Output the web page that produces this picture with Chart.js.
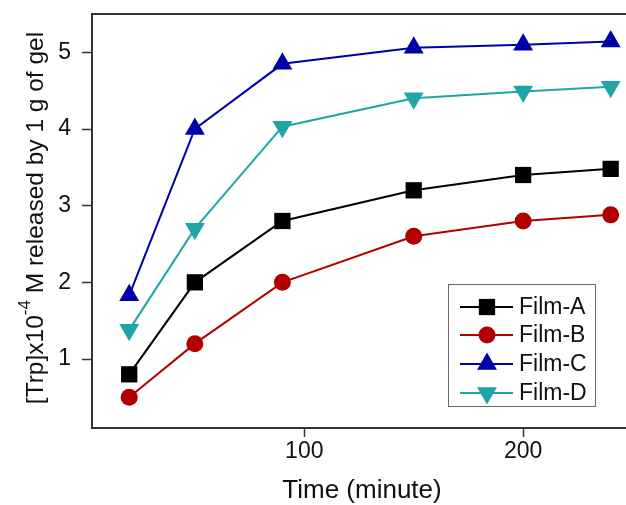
<!DOCTYPE html>
<html>
<head>
<meta charset="utf-8">
<script src="https://cdn.jsdelivr.net/npm/chart.js@4/dist/chart.umd.min.js"></script>
<style>
  html, body { margin: 0; padding: 0; background: #fff; }
  #wrap { width: 626px; height: 505px; }
</style>
</head>
<body>
<div id="wrap"><canvas id="chart" width="626" height="505"></canvas></div>
<script>
// data
const timeMin = [20, 50, 90, 150, 200, 240];
const filmA = [0.8, 2.0, 2.8, 3.2, 3.4, 3.48];
const filmB = [0.5, 1.2, 2.0, 2.6, 2.8, 2.88];
const filmC = [1.83, 4.0, 4.85, 5.06, 5.1, 5.14];
const filmD = [1.38, 2.7, 4.03, 4.4, 4.49, 4.55];
const seriesNames = ['Film-A', 'Film-B', 'Film-C', 'Film-D'];
const xTicks = [100, 200];
const yTicks = [1, 2, 3, 4, 5];

const FONT = '"Liberation Sans", Arial, sans-serif';

function toPoints(ys){
    return timeMin.map((t, i) => ({x: t, y: ys[i]}));
}

function makeSet(name, ys, color, style, radius, rot){
    return {
        label: name,
        data: toPoints(ys),
        borderColor: color,
        backgroundColor: color,
        borderWidth: 2,
        pointStyle: style,
        pointRadius: radius,
        pointRotation: rot,
        pointBorderWidth: 0,
        pointBackgroundColor: color,
        tension: 0,
        clip: false
    };
}

const datasets = [
    makeSet(seriesNames[0], filmA, '#000000', 'rect', 11.5, 0),
    makeSet(seriesNames[1], filmB, '#b00000', 'circle', 8.5, 0),
    makeSet(seriesNames[2], filmC, '#0000a8', 'triangle', 11.5, 0),
    makeSet(seriesNames[3], filmD, '#1fa5a5', 'triangle', 11.5, 180)
];

// frame top line, axis titles and the line+marker legend
const decor = {
    id: 'decor',
    afterDraw(chart){
        const ctx = chart.ctx;
        const a = chart.chartArea;
        ctx.save();
        ctx.strokeStyle = '#333';
        ctx.lineWidth = 2;
        ctx.beginPath();
        ctx.moveTo(a.left - 1, a.top);
        ctx.lineTo(a.right + 5, a.top);
        ctx.stroke();

        ctx.fillStyle = '#111';
        // x title
        ctx.font = '26px ' + FONT;
        ctx.textAlign = 'center';
        ctx.textBaseline = 'middle';
        ctx.fillText('Time (minute)', 362, 491);

        // y title with superscript
        const p1 = '[Trp]x10', sup = '-4', p2 = ' M released by 1 g of gel';
        const big = '24.5px ' + FONT, small = '17px ' + FONT;
        ctx.font = big;
        const w1 = ctx.measureText(p1).width, w3 = ctx.measureText(p2).width;
        ctx.font = small;
        const w2 = ctx.measureText(sup).width;
        const total = w1 + w2 + w3;
        ctx.translate(36, 218);
        ctx.rotate(-Math.PI / 2);
        ctx.textAlign = 'left';
        ctx.textBaseline = 'middle';
        let x = -total / 2;
        ctx.font = big;
        ctx.fillText(p1, x, 0);
        x += w1;
        ctx.font = small;
        ctx.fillText(sup, x, -11);
        x += w2;
        ctx.font = big;
        ctx.fillText(p2, x, 0);
        ctx.restore();

        // legend box
        ctx.save();
        const bx = 448, by = 284, bw = 147, bh = 122;
        ctx.fillStyle = '#fff';
        ctx.fillRect(bx, by, bw, bh);
        ctx.strokeStyle = '#666';
        ctx.lineWidth = 1;
        ctx.strokeRect(bx + 0.5, by + 0.5, bw, bh);
        const rowY = [307, 335, 364, 393];
        chart.data.datasets.forEach((ds, i) => {
            const y = rowY[i];
            ctx.strokeStyle = ds.borderColor;
            ctx.lineWidth = 2;
            ctx.beginPath();
            ctx.moveTo(460, y);
            ctx.lineTo(513, y);
            ctx.stroke();
            ctx.fillStyle = ds.pointBackgroundColor;
            Chart.helpers.drawPoint(ctx, {
                pointStyle: ds.pointStyle,
                radius: ds.pointRadius,
                rotation: ds.pointRotation,
                borderWidth: 0
            }, 487, y);
            ctx.fillStyle = '#111';
            ctx.font = '23px ' + FONT;
            ctx.textAlign = 'left';
            ctx.textBaseline = 'middle';
            ctx.fillText(ds.label, 519, y + 1);
        });
        ctx.restore();
    }
};

new Chart(document.getElementById('chart'), {
    type: 'line',
    data: { datasets: datasets },
    options: {
        responsive: false,
        animation: false,
        devicePixelRatio: 1,
        layout: { autoPadding: false, padding: { top: 14, left: 0, right: 0, bottom: 0 } },
        plugins: { legend: { display: false }, tooltip: { enabled: false } },
        elements: { line: { fill: false } },
        scales: {
            x: {
                type: 'linear',
                min: 3,
                max: 247,
                afterBuildTicks: s => { s.ticks = xTicks.map(v => ({value: v})); },
                afterFit: s => { s.height = 77; s.paddingLeft = 0; s.paddingRight = 0; },
                grid: { drawOnChartArea: false, tickLength: 9, tickWidth: 1.5, tickColor: '#333' },
                border: { color: '#333', width: 2 },
                ticks: { color: '#111', font: { family: FONT, size: 23 }, padding: 1, maxRotation: 0 }
            },
            y: {
                min: 0.1,
                max: 5.5,
                afterBuildTicks: s => { s.ticks = yTicks.map(v => ({value: v})); },
                afterFit: s => { s.width = 92; s.paddingTop = 0; s.paddingBottom = 0; },
                grid: { drawOnChartArea: false, tickLength: 10, tickWidth: 1.5, tickColor: '#333' },
                border: { color: '#333', width: 2 },
                ticks: { color: '#111', font: { family: FONT, size: 23 }, padding: 11 }
            }
        }
    },
    plugins: [decor]
});
</script>
</body>
</html>
